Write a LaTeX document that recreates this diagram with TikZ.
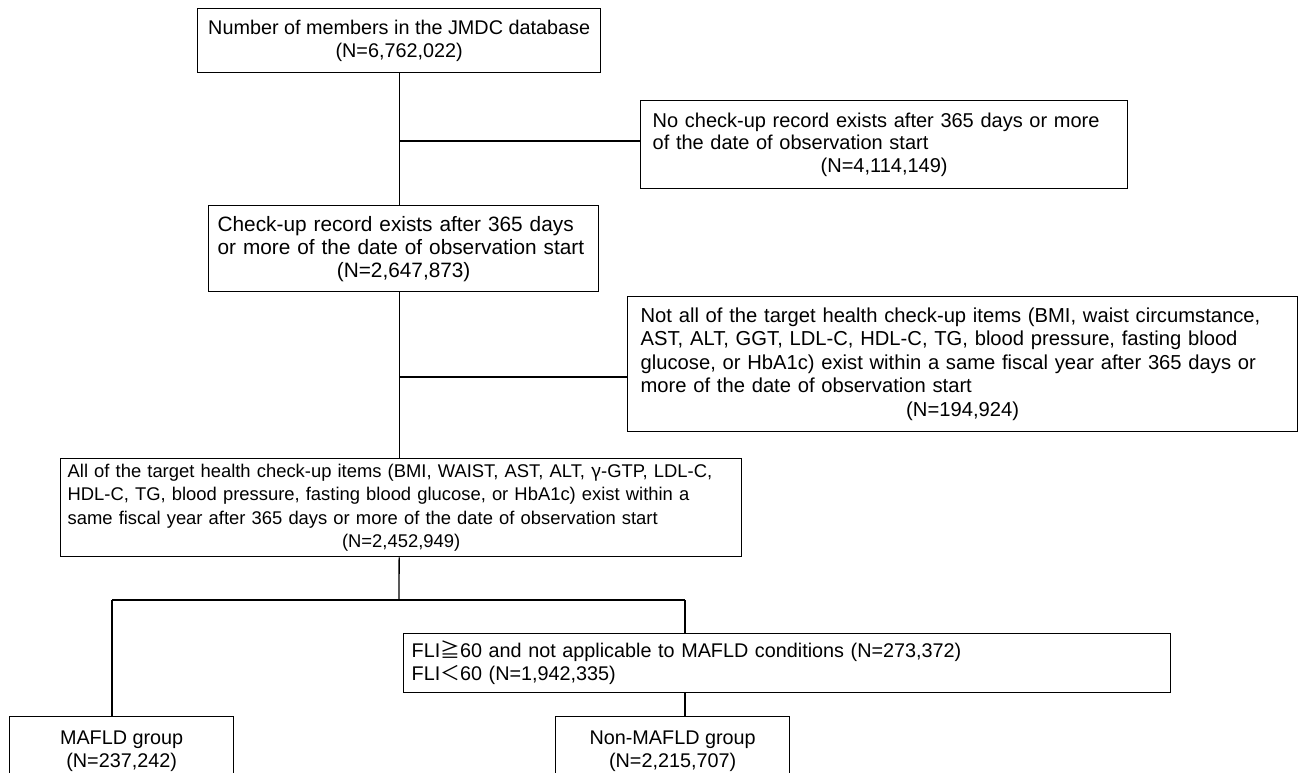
\documentclass[tikz,border=0pt]{standalone}
\usepackage{fontspec}
\setmainfont{Liberation Sans}
\newfontfamily\cjk{Noto Sans CJK JP}
\usepackage{tikz}
\usetikzlibrary{positioning, calc}
\newcommand{\nline}[1]{\hbox to \hsize{\hfil#1\hfil}}

\begin{document}
\begin{tikzpicture}[x=0.5pt, y=-0.5pt, line width=0.65pt,
    flowbox/.style={draw, rectangle, anchor=north west, inner ysep=1pt,
      font=\fontsize{9.9}{11.5}\selectfont},
    leftbox/.style={flowbox, align=left},
    midbox/.style={flowbox, align=center}]
  \useasboundingbox[fill=white] (0,0) rectangle (1309,772);
  \clip (0,0) rectangle (1309,772);

  \node[midbox, minimum width=201.5pt, minimum height=32pt] (top) at (197,8)
    {Number of members in the JMDC database\\(N=6,762,022)};
  \node[leftbox, inner xsep=6pt, text width=231.5pt, minimum height=44pt,
    font=\fontsize{10}{11.4}\selectfont] (nocheck) at (640,100)
    {No check-up record exists after 365 days or more\\of the date of observation start\\
     \nline{(N=4,114,149)}};
  \node[leftbox, inner xsep=4.5pt, text width=186pt, minimum height=43pt,
    font=\fontsize{10.4}{11.5}\selectfont] (check) at (208,205)
    {Check-up record exists after 365 days\\or more of the date of observation start\\
     \nline{(N=2,647,873)}};
  \node[leftbox, inner xsep=6.5pt, text width=322pt, minimum height=67.5pt,
    font=\fontsize{10.1}{11.7}\selectfont] (notall) at (627,296)
    {Not all of the target health check-up items (BMI, waist circumstance,\\
     AST, ALT, GGT, LDL-C, HDL-C, TG, blood pressure, fasting blood\\
     glucose, or HbA1c) exist within a same fiscal year after 365 days or\\
     more of the date of observation start\\
     \nline{(N=194,924)}};
  \node[leftbox, inner xsep=3.5pt, text width=333.5pt, minimum height=49pt,
    font=\fontsize{9.2}{11.6}\selectfont] (all) at (60,458)
    {All of the target health check-up items (BMI, WAIST, AST, ALT, {\cjk γ}-GTP, LDL-C,\\
     HDL-C, TG, blood pressure, fasting blood glucose, or HbA1c) exist within a\\
     same fiscal year after 365 days or more of the date of observation start\\
     \nline{(N=2,452,949)}};
  \node[leftbox, inner xsep=4pt, text width=375.5pt, minimum height=29.5pt] (fli) at (403,633)
    {FLI{\cjk ≧}60 and not applicable to MAFLD conditions (N=273,372)\\
     FLI{\cjk ＜}60 (N=1,942,335)};
  \node[midbox, minimum width=112pt, minimum height=35pt] (mafld) at (9,716)
    {MAFLD group\\(N=237,242)};
  \node[midbox, minimum width=117pt, minimum height=35pt] (nonmafld) at (555,716)
    {Non-MAFLD group\\(N=2,215,707)};

  \coordinate (j1) at (399,141);
  \coordinate (j2) at (399,377);
  \coordinate (split) at (399,600);
  \coordinate (lft) at (112,600);
  \coordinate (rgt) at (685,600);

  \draw (top.south) -- (top.south |- check.north);
  \draw (j1) -- (j1 -| nocheck.west);
  \draw (top.south |- check.south) -- (top.south |- all.north);
  \draw (j2) -- (j2 -| notall.west);
  \draw (top.south |- all.south) -- (split);
  \draw (lft) -- (rgt);
  \draw (lft) -- (lft |- mafld.north);
  \draw (rgt) -- (rgt |- fli.north);
  \draw (rgt |- fli.south) -- (rgt |- nonmafld.north);
\end{tikzpicture}
\end{document}
